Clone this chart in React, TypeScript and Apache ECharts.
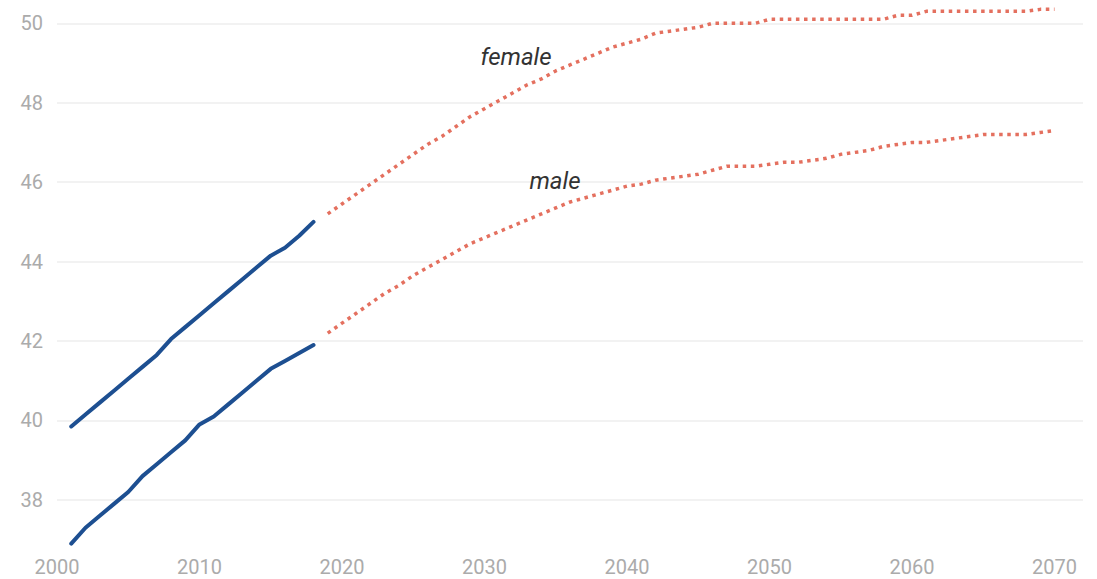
import React, { useEffect, useRef } from "react";
import * as echarts from "echarts";

const histYears = [2001, 2002, 2003, 2004, 2005, 2006, 2007, 2008, 2009, 2010, 2011, 2012, 2013, 2014, 2015, 2016, 2017, 2018];
const femaleHist = [39.85, 40.15, 40.45, 40.75, 41.05, 41.35, 41.65, 42.05, 42.35, 42.65, 42.95, 43.25, 43.55, 43.85, 44.15, 44.35, 44.65, 45.0];
const maleHist = [36.9, 37.3, 37.6, 37.9, 38.2, 38.6, 38.9, 39.2, 39.5, 39.9, 40.1, 40.4, 40.7, 41.0, 41.3, 41.5, 41.7, 41.9];

const projYears = [
  2019, 2020, 2021, 2022, 2023, 2024, 2025, 2026, 2027, 2028, 2029, 2030, 2031, 2032, 2033, 2034, 2035, 2036,
  2037, 2038, 2039, 2040, 2041, 2042, 2043, 2044, 2045, 2046, 2047, 2048, 2049, 2050, 2051, 2052, 2053, 2054,
  2055, 2056, 2057, 2058, 2059, 2060, 2061, 2062, 2063, 2064, 2065, 2066, 2067, 2068, 2069, 2070,
];
const femaleProj = [
  45.2, 45.45, 45.7, 45.95, 46.2, 46.45, 46.7, 46.95, 47.15, 47.4, 47.65, 47.85, 48.05, 48.25, 48.45, 48.6, 48.8, 48.95,
  49.1, 49.25, 49.4, 49.5, 49.6, 49.75, 49.8, 49.85, 49.9, 50.0, 50.0, 50.0, 50.0, 50.1, 50.1, 50.1, 50.1, 50.1,
  50.1, 50.1, 50.1, 50.1, 50.2, 50.2, 50.3, 50.3, 50.3, 50.3, 50.3, 50.3, 50.3, 50.3, 50.35, 50.35,
];
const maleProj = [
  42.2, 42.45, 42.7, 42.95, 43.2, 43.4, 43.65, 43.85, 44.05, 44.25, 44.45, 44.6, 44.75, 44.9, 45.05, 45.2, 45.35, 45.5,
  45.6, 45.7, 45.8, 45.9, 45.95, 46.05, 46.1, 46.15, 46.2, 46.3, 46.4, 46.4, 46.4, 46.45, 46.5, 46.5, 46.55, 46.6,
  46.7, 46.75, 46.8, 46.9, 46.95, 47.0, 47.0, 47.05, 47.1, 47.15, 47.2, 47.2, 47.2, 47.2, 47.25, 47.3,
];

const yGridValues = [38, 40, 42, 44, 46, 48, 50];
const seriesLabels = ["female", "male"];

const BLUE = "#1d4f91";
const RED = "#e4705f";
const FONT = "Roboto, 'Noto Sans', sans-serif";

const pairs = (xs: number[], ys: number[]) => xs.map((x, i) => [x, ys[i]]);

export default function App() {
  const ref = useRef<HTMLDivElement>(null);

  useEffect(() => {
    if (!ref.current) return;
    const chart = echarts.init(ref.current, null, { renderer: "svg" });
    const histStyle = { color: BLUE, width: 4, cap: "round" as const };
    const projStyle = { color: RED, width: 3.5, type: [3.5, 4.6] as number[] };
    chart.setOption({
      animation: false,
      grid: { left: 57, right: 14, top: 3.4, bottom: 31.4 },
      xAxis: {
        type: "value",
        min: 2000,
        max: 2072,
        interval: 10,
        axisLine: { show: false },
        axisTick: { show: false },
        splitLine: { show: false },
        axisLabel: {
          color: "#ababab",
          fontSize: 20,
          fontFamily: FONT,
          margin: 9,
          showMaxLabel: false,
          formatter: (v: number) => String(v),
        },
      },
      yAxis: {
        type: "value",
        min: 36.8,
        max: 50.5,
        splitNumber: 7,
        axisLine: { show: false },
        axisTick: { show: false },
        splitLine: { show: false },
        axisLabel: {
          color: "#ababab",
          fontSize: 20,
          fontFamily: FONT,
          margin: 14,
          showMinLabel: false,
          showMaxLabel: false,
          formatter: (v: number) => String(v),
        },
      },
      series: [
        {
          type: "line",
          data: pairs(histYears, femaleHist),
          showSymbol: false,
          lineStyle: histStyle,
          z: 3,
          markLine: {
            silent: true,
            symbol: "none",
            label: { show: false },
            lineStyle: { color: "#eeeeee", width: 1.5, type: "solid" },
            data: yGridValues.map((v) => ({ yAxis: v })),
            z: 1,
          },
        },
        {
          type: "line",
          data: pairs(histYears, maleHist),
          showSymbol: false,
          lineStyle: histStyle,
          z: 3,
        },
        {
          type: "line",
          data: pairs(projYears, femaleProj),
          showSymbol: false,
          lineStyle: projStyle,
          z: 3,
        },
        {
          type: "line",
          data: pairs(projYears, maleProj),
          showSymbol: false,
          lineStyle: projStyle,
          z: 3,
        },
      ],
      graphic: [
        {
          type: "text",
          x: 516,
          y: 57,
          z: 100,
          zlevel: 0,
          style: {
            text: seriesLabels[0],
            fill: "#333333",
            font: `italic 24px ${FONT}`,
            align: "center",
            verticalAlign: "middle",
          },
        },
        {
          type: "text",
          x: 555,
          y: 181,
          z: 100,
          zlevel: 0,
          style: {
            text: seriesLabels[1],
            fill: "#333333",
            font: `italic 24px ${FONT}`,
            align: "center",
            verticalAlign: "middle",
          },
        },
      ],
    });
    return () => chart.dispose();
  }, []);

  return (
    <div
      ref={ref}
      style={{ position: "absolute", left: 0, top: 0, width: 1097, height: 579, background: "#ffffff" }}
    />
  );
}
